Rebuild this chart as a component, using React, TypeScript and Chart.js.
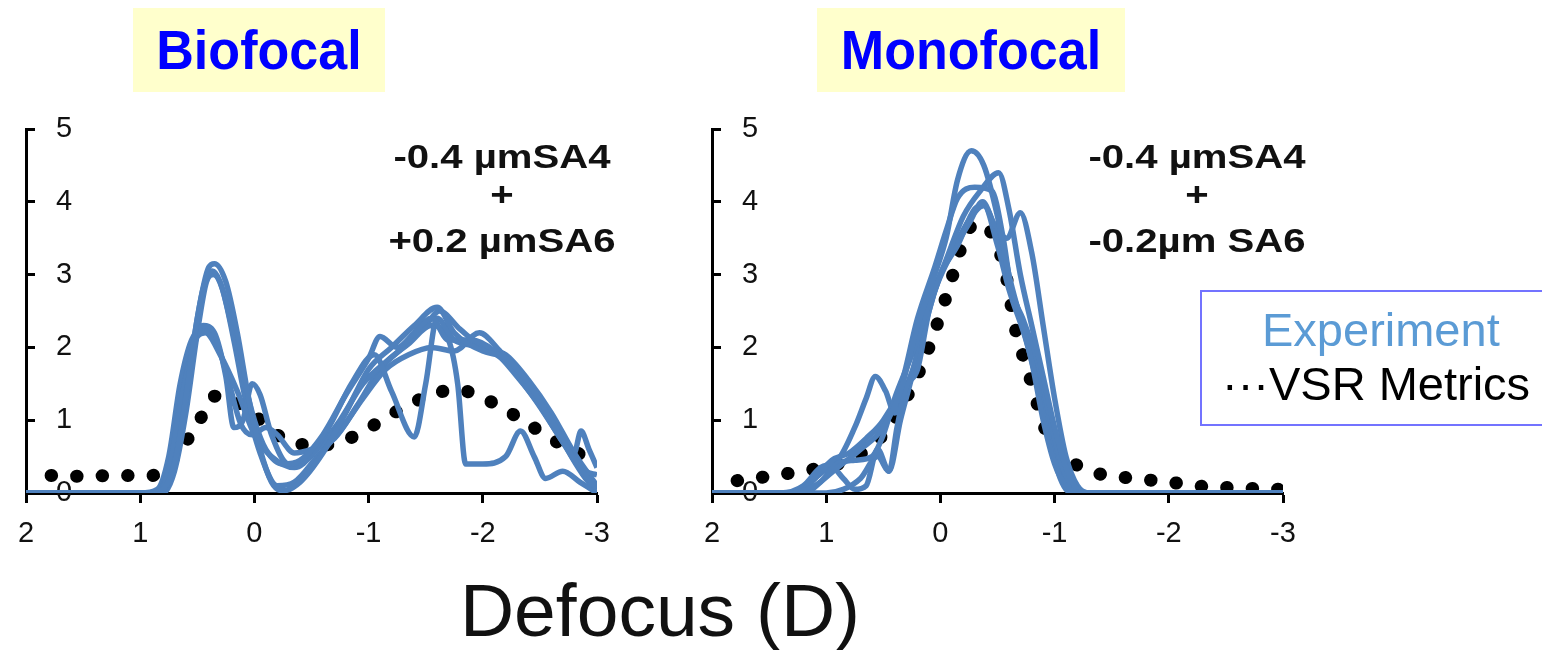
import React, { useEffect, useRef } from "react";
import { Chart, registerables } from "chart.js";

Chart.register(...registerables);

// ---------- data (defocus in D, value) ----------
const X_TICKS = [2, 1, 0, -1, -2, -3];
const Y_TICKS = [0, 1, 2, 3, 4, 5];

const bifocalVsr: [number, number][] = [
  [1.78, 0.24], [1.5, 0.23], [1.2, 0.24], [0.9, 0.24], [0.75, 0.4], [0.6, 0.7], [0.48, 1.0],
  [0.35, 1.33], [0.16, 1.25], [-0.05, 1.0], [-0.2, 0.8], [-0.4, 0.67], [-0.6, 0.66],
  [-0.83, 0.75], [-1.02, 0.91], [-1.21, 1.09], [-1.4, 1.25], [-1.6, 1.38], [-1.8, 1.41],
  [-2.01, 1.3], [-2.21, 1.13], [-2.4, 0.95], [-2.58, 0.76], [-2.8, 0.58], [-2.97, 0.4],
];

const bifocalExp1: [number, number][] = [
  [2, 0], [0.9, 0], [0.8, 0.05], [0.7, 0.4], [0.6, 1.3], [0.5, 2.4], [0.4, 3.1], [0.35, 3.15],
  [0.25, 2.9], [0.15, 2.2], [0.05, 1.3], [-0.05, 0.6], [-0.15, 0.15], [-0.25, 0.03], [-0.4, 0.15],
  [-0.6, 0.55], [-0.8, 1.1], [-1.0, 1.7], [-1.2, 2.0], [-1.4, 2.3], [-1.6, 2.55], [-1.75, 2.2],
  [-2.0, 1.95], [-2.2, 1.85], [-2.4, 1.5], [-2.6, 1.0], [-2.8, 0.45], [-3, 0.05],
];
const bifocalExp2: [number, number][] = [
  [2, 0], [0.85, 0], [0.75, 0.15], [0.65, 0.8], [0.55, 1.9], [0.45, 2.8], [0.37, 3.05], [0.3, 2.9],
  [0.2, 2.3], [0.1, 1.6], [0.0, 1.0], [-0.1, 0.6], [-0.25, 0.4], [-0.4, 0.45], [-0.6, 0.8],
  [-0.8, 1.35], [-1.0, 1.85], [-1.1, 2.15], [-1.25, 2.0], [-1.4, 2.2], [-1.55, 2.4], [-1.7, 2.1],
  [-1.9, 2.1], [-2.1, 1.95], [-2.3, 1.6], [-2.5, 1.2], [-2.7, 0.7], [-2.9, 0.3], [-3, 0.25],
];
const bifocalExp3: [number, number][] = [
  [2, 0], [0.85, 0], [0.75, 0.3], [0.65, 1.2], [0.55, 1.9], [0.45, 2.3], [0.35, 2.2], [0.25, 1.6],
  [0.18, 0.9], [0.1, 1.0], [0.02, 1.5], [-0.05, 1.35], [-0.15, 0.8], [-0.3, 0.4], [-0.45, 0.45],
  [-0.65, 0.9], [-0.85, 1.5], [-1.05, 1.9], [-1.2, 1.4], [-1.4, 0.77], [-1.5, 1.5], [-1.6, 2.4],
  [-1.75, 2.1], [-2.0, 2.0], [-2.2, 1.8], [-2.45, 1.3], [-2.7, 0.7], [-2.9, 0.2], [-3, 0.05],
];
const bifocalExp4: [number, number][] = [
  [2, 0], [0.9, 0], [0.8, 0.1], [0.7, 0.7], [0.6, 1.6], [0.5, 2.15], [0.43, 2.2], [0.3, 1.9],
  [0.15, 1.4], [0.0, 0.8], [-0.15, 0.5], [-0.35, 0.35], [-0.55, 0.6], [-0.75, 1.0], [-0.95, 1.5],
  [-1.15, 1.8], [-1.35, 2.05], [-1.55, 2.3], [-1.7, 2.1], [-1.78, 1.5], [-1.85, 0.4], [-2.0, 0.4],
  [-2.2, 0.5], [-2.33, 0.85], [-2.45, 0.5], [-2.55, 0.2], [-2.7, 0.3], [-2.85, 0.15], [-3, 0],
];
const bifocalExp5: [number, number][] = [
  [2, 0], [0.8, 0], [0.7, 0.3], [0.6, 1.1], [0.5, 2.2], [0.42, 2.9], [0.36, 3.0], [0.28, 2.8],
  [0.18, 2.1], [0.08, 1.3], [-0.05, 0.55], [-0.2, 0.1], [-0.35, 0.15], [-0.55, 0.5], [-0.75, 0.85],
  [-0.95, 1.3], [-1.15, 1.7], [-1.35, 1.9], [-1.55, 2.0], [-1.75, 1.95], [-1.97, 2.2], [-2.15, 1.95],
  [-2.35, 1.6], [-2.55, 1.1], [-2.72, 0.7], [-2.8, 0.55], [-2.86, 0.85], [-2.93, 0.6], [-3, 0.35],
];
const bifocalExp6: [number, number][] = [
  [2, 0], [1.0, 0], [0.85, 0.05], [0.75, 0.5], [0.65, 1.5], [0.55, 2.1], [0.45, 2.25], [0.35, 2.15],
  [0.22, 1.5], [0.12, 0.95], [0.02, 0.8], [-0.1, 0.9], [-0.2, 0.8], [-0.35, 0.55], [-0.5, 0.6],
  [-0.7, 0.75], [-0.9, 1.2], [-1.1, 1.7], [-1.3, 2.0], [-1.5, 2.3], [-1.62, 2.5], [-1.8, 2.25],
  [-2.0, 2.0], [-2.2, 1.9], [-2.4, 1.55], [-2.6, 1.1], [-2.8, 0.55], [-3, 0.1],
];

const monofocalVsr: [number, number][] = [
  [1.78, 0.17], [1.5, 0.23], [1.25, 0.29], [1.0, 0.36], [0.8, 0.45], [0.6, 0.65], [0.45, 0.9],
  [0.3, 1.3], [0.15, 1.8], [0.0, 2.45], [-0.1, 2.95], [-0.2, 3.45], [-0.3, 3.7], [-0.4, 3.66],
  [-0.5, 3.4], [-0.58, 2.95], [-0.65, 2.3], [-0.72, 1.9], [-0.8, 1.5], [-0.88, 1.05], [-0.95, 0.75],
  [-1.05, 0.5], [-1.2, 0.38], [-1.4, 0.26], [-1.7, 0.2], [-2.0, 0.15], [-2.3, 0.09], [-2.6, 0.07],
  [-3.0, 0.05],
];

const monofocalExp1: [number, number][] = [
  [2, 0], [1.3, 0], [1.1, 0.1], [0.9, 0.35], [0.7, 0.6], [0.5, 0.9], [0.35, 1.4], [0.2, 2.3],
  [0.05, 3.0], [-0.05, 3.5], [-0.15, 4.3], [-0.27, 4.7], [-0.38, 4.5], [-0.5, 3.8], [-0.6, 3.0],
  [-0.7, 2.4], [-0.8, 1.8], [-0.9, 1.0], [-1.0, 0.4], [-1.1, 0.1], [-1.25, 0], [-3, 0],
];
const monofocalExp2: [number, number][] = [
  [2, 0], [1.2, 0], [1.05, 0.15], [0.9, 0.4], [0.75, 0.45], [0.6, 0.5], [0.5, 0.8], [0.4, 1.3],
  [0.25, 1.9], [0.1, 2.6], [-0.05, 3.2], [-0.2, 3.8], [-0.35, 4.15], [-0.51, 4.4], [-0.6, 3.9],
  [-0.7, 3.0], [-0.8, 2.3], [-0.9, 1.6], [-1.0, 0.9], [-1.1, 0.35], [-1.2, 0.05], [-1.3, 0], [-3, 0],
];
const monofocalExp3: [number, number][] = [
  [2, 0], [1.25, 0], [1.1, 0.2], [0.95, 0.45], [0.8, 0.55], [0.65, 0.75], [0.5, 1.0], [0.35, 1.45],
  [0.2, 2.4], [0.05, 3.1], [-0.05, 3.6], [-0.15, 4.05], [-0.3, 4.2], [-0.45, 4.15], [-0.55, 3.5],
  [-0.62, 2.8], [-0.72, 2.4], [-0.85, 1.8], [-0.95, 1.1], [-1.05, 0.45], [-1.15, 0.1], [-1.25, 0],
  [-3, 0],
];
const monofocalExp4: [number, number][] = [
  [2, 0], [1.0, 0], [0.85, 0.05], [0.7, 0.2], [0.55, 0.5], [0.45, 0.3], [0.38, 0.9], [0.3, 1.45],
  [0.2, 1.7], [0.1, 2.5], [0.0, 3.0], [-0.1, 3.3], [-0.25, 3.7], [-0.37, 4.0], [-0.47, 3.7],
  [-0.58, 3.5], [-0.7, 3.85], [-0.8, 3.3], [-0.9, 2.3], [-1.0, 1.3], [-1.1, 0.5], [-1.2, 0.1],
  [-1.3, 0], [-3, 0],
];
const monofocalExp5: [number, number][] = [
  [2, 0], [1.4, 0], [1.2, 0.1], [1.05, 0.35], [0.9, 0.45], [0.75, 0.9], [0.65, 1.3], [0.57, 1.6],
  [0.48, 1.4], [0.4, 1.1], [0.3, 1.45], [0.2, 1.9], [0.1, 2.5], [0.0, 3.0], [-0.15, 3.4],
  [-0.3, 3.9], [-0.38, 3.95], [-0.5, 3.4], [-0.6, 2.8], [-0.75, 2.1], [-0.85, 1.5], [-0.95, 0.8],
  [-1.05, 0.2], [-1.15, 0], [-3, 0],
];
const monofocalExp6: [number, number][] = [
  [2, 0], [1.25, 0], [1.1, 0.2], [0.95, 0.35], [0.85, 0.2], [0.75, 0.05], [0.65, 0.1], [0.55, 0.6],
  [0.45, 0.3], [0.35, 1.0], [0.25, 1.6], [0.15, 2.3], [0.02, 2.9], [-0.1, 3.3], [-0.25, 3.75],
  [-0.38, 3.95], [-0.5, 3.5], [-0.62, 2.8], [-0.75, 2.2], [-0.88, 1.5], [-0.98, 0.8], [-1.08, 0.2],
  [-1.18, 0], [-3, 0],
];

const bifocalExps = [bifocalExp1, bifocalExp2, bifocalExp3, bifocalExp4, bifocalExp5, bifocalExp6];
const monofocalExps = [monofocalExp1, monofocalExp2, monofocalExp3, monofocalExp4, monofocalExp5, monofocalExp6];

const EXP_COLOR = "#4F81BD";
const TICK_FONT = { family: "'Liberation Sans', Arial, sans-serif", size: 29 };

function buildConfig(vsr: [number, number][], exps: [number, number][][]): any {
  const toPts = (arr: [number, number][]) => arr.map(([x, y]) => ({ x, y }));
  return {
    type: "line",
    data: {
      datasets: [
        ...exps.map((d, i) => ({
          label: `Experiment ${i + 1}`,
          data: toPts(d),
          borderColor: EXP_COLOR,
          backgroundColor: EXP_COLOR,
          borderWidth: 5.5,
          pointRadius: 0,
          cubicInterpolationMode: "monotone",
          fill: false,
          order: 1,
        })),
        {
          label: "VSR Metrics",
          data: toPts(vsr),
          borderColor: "#000",
          backgroundColor: "#000",
          borderWidth: 13,
          borderDash: [0.5, 25],
          borderCapStyle: "round",
          pointRadius: 0,
          cubicInterpolationMode: "monotone",
          fill: false,
          order: 2,
        },
      ],
    },
    options: {
      responsive: false,
      animation: false,
      devicePixelRatio: 1,
      events: [],
      layout: { padding: { top: 29, right: 23, left: 0, bottom: 0 } },
      plugins: { legend: { display: false }, tooltip: { enabled: false } },
      scales: {
        x: {
          type: "linear",
          reverse: true,
          min: -3,
          max: 2,
          afterFit: (s: any) => {
            s.height = 67;
            s.paddingLeft = 0;
            s.paddingRight = 0;
          },
          afterBuildTicks: (s: any) => {
            s.ticks = X_TICKS.map((v) => ({ value: v }));
          },
          ticks: {
            font: TICK_FONT,
            color: "#111",
            padding: 14,
            maxRotation: 0,
            callback: (v: any) => String(v),
          },
          grid: { drawOnChartArea: false, drawTicks: true, tickLength: 10, tickWidth: 3, tickColor: "#000" },
          border: { display: true, color: "#000", width: 3 },
        },
        y: {
          type: "linear",
          min: 0,
          max: 5,
          afterFit: (s: any) => {
            s.width = 26;
            s.paddingTop = 0;
            s.paddingBottom = 0;
          },
          afterBuildTicks: (s: any) => {
            s.ticks = Y_TICKS.map((v) => ({ value: v }));
          },
          ticks: {
            mirror: true,
            padding: 30,
            font: TICK_FONT,
            color: "#111",
            callback: (v: any) => String(v),
          },
          grid: { drawOnChartArea: false, drawTicks: true, tickLength: -9, tickWidth: 3, tickColor: "#000" },
          border: { display: true, color: "#000", width: 3 },
        },
      },
    },
  };
}

function Panel({ left, vsr, exps }: { left: number; vsr: [number, number][]; exps: [number, number][][] }) {
  const ref = useRef<HTMLCanvasElement | null>(null);
  useEffect(() => {
    if (!ref.current) return;
    const chart = new Chart(ref.current, buildConfig(vsr, exps));
    return () => chart.destroy();
  }, [vsr, exps]);
  return (
    <div style={{ position: "absolute", left, top: 100, width: 620, height: 460 }}>
      <canvas ref={ref} width={620} height={460} style={{ display: "block", width: 620, height: 460 }} />
    </div>
  );
}

const sansFont = "'Liberation Sans', Arial, sans-serif";

function Note({ cx, lines }: { cx: number; lines: string[] }) {
  const ys = [156, 194, 240];
  return (
    <>
      {lines.map((t, i) => (
        <div
          key={i}
          style={{
            position: "absolute",
            left: cx - 200,
            width: 400,
            top: ys[i] - 20,
            height: 40,
            lineHeight: "40px",
            textAlign: "center",
            fontFamily: sansFont,
            fontWeight: "bold",
            fontSize: 34,
            color: "#111",
            whiteSpace: "nowrap",
            transform: "scaleX(1.18)",
          }}
        >
          {t}
        </div>
      ))}
    </>
  );
}

function TitleBox({ left, width, text }: { left: number; width: number; text: string }) {
  return (
    <div
      style={{
        position: "absolute",
        left,
        top: 8,
        width,
        height: 84,
        background: "#FFFFCC",
      }}
    >
      <div
        style={{
          position: "absolute",
          left: 0,
          width,
          top: 0,
          height: 84,
          color: "#0000FF",
          fontFamily: sansFont,
          fontWeight: "bold",
          fontSize: 56,
          lineHeight: "84px",
          textAlign: "center",
          whiteSpace: "nowrap",
          transform: "scaleX(0.93)",
        }}
      >
        {text}
      </div>
    </div>
  );
}

export default function App() {
  return (
    <div
      style={{
        position: "absolute",
        left: 0,
        top: 0,
        width: 1542,
        height: 650,
        background: "#fff",
        overflow: "hidden",
      }}
    >
      <TitleBox left={133} width={252} text="Biofocal" />
      <TitleBox left={817} width={308} text="Monofocal" />
      <Panel left={0} vsr={bifocalVsr} exps={bifocalExps} />
      <Panel left={686} vsr={monofocalVsr} exps={monofocalExps} />
      <Note cx={502} lines={["-0.4 µmSA4", "+", "+0.2 µmSA6"]} />
      <Note cx={1197} lines={["-0.4 µmSA4", "+", "-0.2µm SA6"]} />
      <div
        style={{
          position: "absolute",
          left: 1200,
          top: 290,
          width: 360,
          height: 132,
          border: "2px solid #7373FF",
          fontFamily: sansFont,
          fontSize: 47,
        }}
      >
        <div style={{ position: "absolute", left: 60, top: 12, color: "#5B9BD5", lineHeight: "52px", whiteSpace: "nowrap" }}>
          Experiment
        </div>
        <div style={{ position: "absolute", left: 20, top: 66, color: "#000", lineHeight: "52px", whiteSpace: "nowrap" }}>
          ···VSR Metrics
        </div>
      </div>
      <div
        style={{
          position: "absolute",
          left: 380,
          width: 560,
          top: 570,
          textAlign: "center",
          fontFamily: sansFont,
          fontSize: 75,
          lineHeight: "80px",
          color: "#111",
          whiteSpace: "nowrap",
        }}
      >
        Defocus (D)
      </div>
    </div>
  );
}
